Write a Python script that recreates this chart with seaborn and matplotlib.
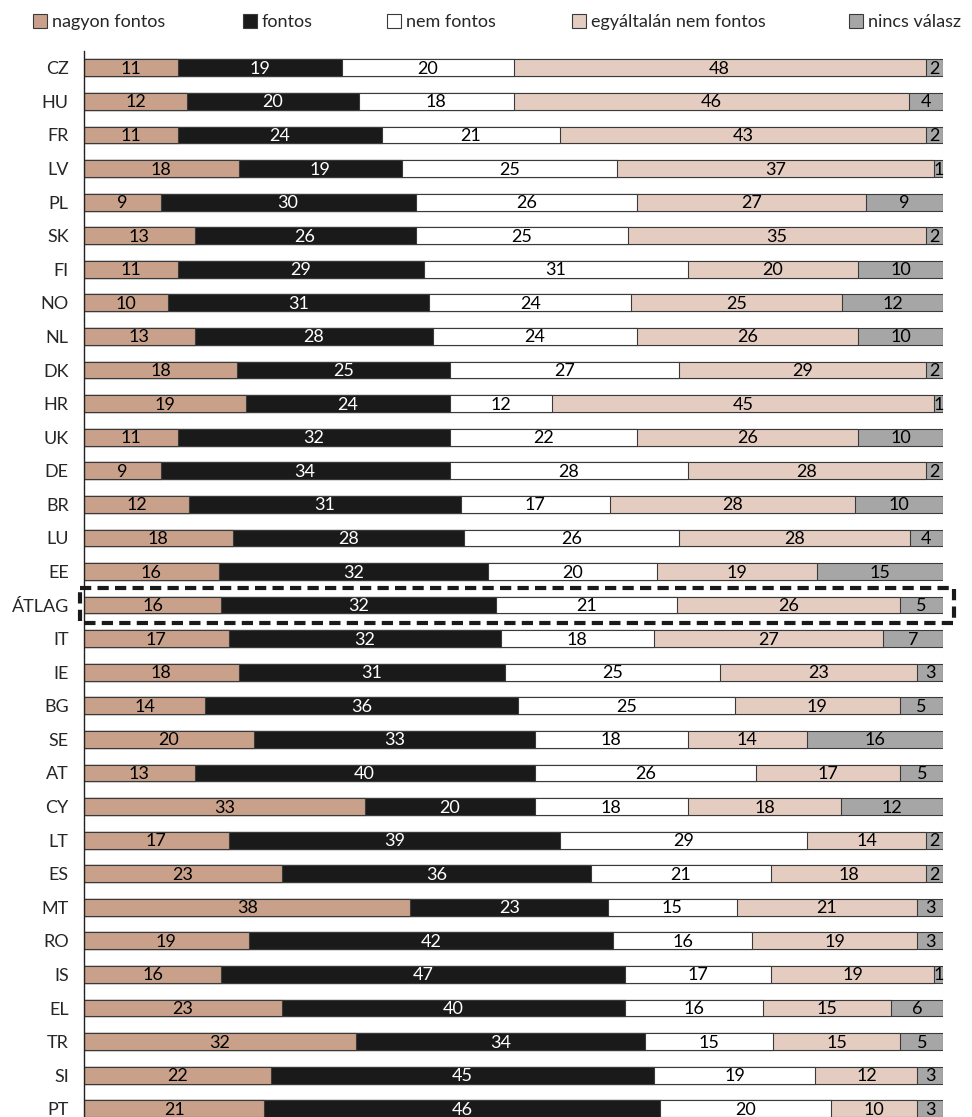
import numpy as np
import pandas as pd
import matplotlib
matplotlib.use("Agg")
import matplotlib.pyplot as plt
from matplotlib.patches import Patch, Rectangle
import seaborn as sns

countries = ["CZ", "HU", "FR", "LV", "PL", "SK", "FI", "NO", "NL", "DK", "HR", "UK",
             "DE", "BR", "LU", "EE", "ÁTLAG", "IT", "IE", "BG", "SE", "AT", "CY", "LT",
             "ES", "MT", "RO", "IS", "EL", "TR", "SI", "PT"]

nagyon_fontos = [11, 12, 11, 18, 9, 13, 11, 10, 13, 18, 19, 11, 9, 12, 18, 16, 16, 17, 18,
                 14, 20, 13, 33, 17, 23, 38, 19, 16, 23, 32, 22, 21]
fontos = [19, 20, 24, 19, 30, 26, 29, 31, 28, 25, 24, 32, 34, 31, 28, 32, 32, 32, 31,
          36, 33, 40, 20, 39, 36, 23, 42, 47, 40, 34, 45, 46]
nem_fontos = [20, 18, 21, 25, 26, 25, 31, 24, 24, 27, 12, 22, 28, 17, 26, 20, 21, 18, 25,
              25, 18, 26, 18, 29, 21, 15, 16, 17, 16, 15, 19, 20]
egyaltalan_nem = [48, 46, 43, 37, 27, 35, 20, 25, 26, 29, 45, 26, 28, 28, 28, 19, 26, 27, 23,
                  19, 14, 17, 18, 14, 18, 21, 19, 19, 15, 15, 12, 10]
nincs_valasz = [2, 4, 2, 1, 9, 2, 10, 12, 10, 2, 1, 10, 2, 10, 4, 15, 5, 7, 3,
                5, 16, 5, 12, 2, 2, 3, 3, 1, 6, 5, 3, 3]

series_names = ["nagyon fontos", "fontos", "nem fontos", "egyáltalán nem fontos", "nincs válasz"]
series_values = [nagyon_fontos, fontos, nem_fontos, egyaltalan_nem, nincs_valasz]
colors = ["#C9A18B", "#1A1A1A", "#FFFFFF", "#E4CCC0", "#A6A6A6"]
text_colors = ["black", "white", "black", "black", "black"]
edge = "#3A3A3A"

sns.set_style("white")
plt.rcParams["font.family"] = ["Lato", "DejaVu Sans"]
FS = 13

vals = np.array(series_values, dtype=float)          # shape (5, n)
shares = vals / vals.sum(axis=0) * 100               # 100% stacked
cum = np.cumsum(shares, axis=0)

fig = plt.figure(figsize=(9.72, 11.17), dpi=100)
W, H = 972, 1117
ax_top, ax_bottom = 51, 1117
ax = fig.add_axes([84 / W, 1 - ax_bottom / H, (943 - 84) / W, (ax_bottom - ax_top) / H])

# draw cumulative layers from the widest to the narrowest
for k in range(4, -1, -1):
    df = pd.DataFrame({"country": countries, "value": cum[k]})
    sns.barplot(data=df, x="value", y="country", orient="h", order=countries,
                color=colors[k], saturation=1, width=0.5, edgecolor=edge,
                linewidth=0.8, ax=ax, zorder=2)

# segment labels
for k in range(5):
    left = cum[k] - shares[k]
    for i in range(len(countries)):
        ax.text(left[i] + shares[k][i] / 2, i + 0.03, f"{int(vals[k][i])}",
                ha="center", va="center", fontsize=FS, color=text_colors[k], zorder=5)

n = len(countries)
pitch = (1109 - 68) / (n - 1)
ax.set_xlim(0, 100)
ax.set_ylim(-0.5 + (ax_bottom - ax_top) / pitch, -0.5)
ax.set_xlabel("")
ax.set_ylabel("")
ax.set_xticks([])
ax.tick_params(axis="y", length=0, pad=11, labelsize=FS)
for s in ["top", "right", "bottom"]:
    ax.spines[s].set_visible(False)
ax.spines["left"].set_color("#222222")
ax.spines["left"].set_linewidth(1.0)

# highlight frame around the average row
avg = countries.index("ÁTLAG")
frame = Rectangle((-0.47, avg - 0.52), 101.7, 1.04, fill=False, edgecolor="#1A1A1A",
                  linewidth=3, linestyle=(0, (2.7, 1.5)), clip_on=False, zorder=6)
ax.add_patch(frame)

# legend entries placed individually
legend_x = [33, 243, 387, 572, 849]
for name, col, x in zip(series_names, colors, legend_x):
    h = Patch(facecolor=col, edgecolor=edge, linewidth=0.8)
    fig.legend(handles=[h], labels=[name], loc="center left",
               bbox_to_anchor=(x / W, 1 - 22 / H), frameon=False, fontsize=FS,
               handlelength=0.8, handleheight=0.8, handletextpad=0.25,
               borderpad=0, borderaxespad=0)

fig.savefig("out.png", dpi=100)
